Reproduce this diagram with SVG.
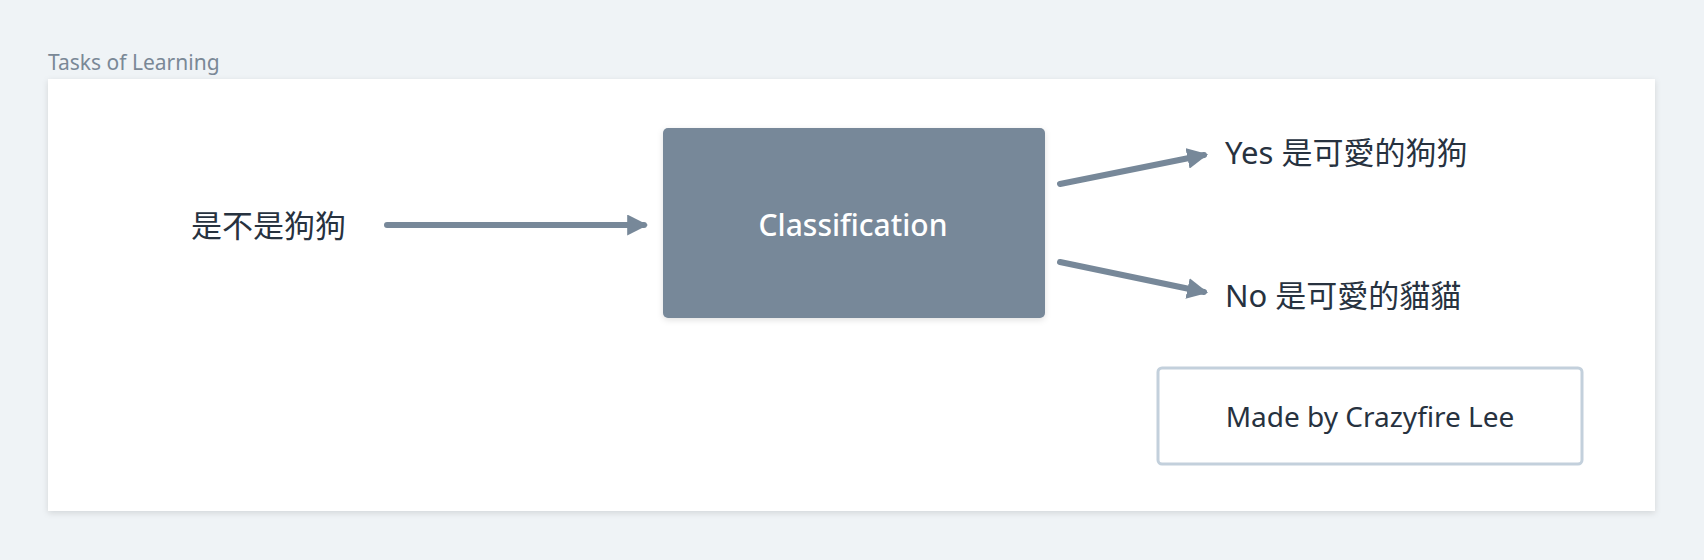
<svg xmlns="http://www.w3.org/2000/svg" width="1704" height="560" viewBox="0 0 1704 560">
<style>
text{font-family:"Noto Sans","Noto Sans CJK TC",sans-serif;fill:#27323f}
.lbl{font-size:31px}
.conn line{stroke:#778899;stroke-width:6;stroke-linecap:round}
</style>
<defs>
<marker id="ah" viewBox="0 0 10 10" refX="8" refY="5" markerWidth="3.5" markerHeight="3.5" orient="auto" markerUnits="strokeWidth"><path d="M0,0 L10,5 L0,10 z" fill="#778899"/></marker>
<filter id="sh" x="-10%" y="-10%" width="120%" height="130%"><feDropShadow dx="0" dy="2" stdDeviation="3" flood-color="#000" flood-opacity="0.12"/></filter>
</defs>
<rect width="1704" height="560" fill="#eff3f6"/>
<text x="48" y="70" style="font-size:21px;fill:#7a8896">Tasks of Learning</text>
<rect x="48" y="79" width="1607" height="432" fill="#fff" filter="url(#sh)"/>
<g id="classification"><rect x="663" y="128" width="382" height="190" rx="5" fill="#778899" filter="url(#sh)"/><text x="853" y="236" text-anchor="middle" style="font-size:30px;fill:#fff;font-weight:500">Classification</text></g>
<g id="input"><text class="lbl" x="191" y="237">是不是狗狗</text></g>
<g id="yes"><text class="lbl" x="1225" y="164">Yes 是可愛的狗狗</text></g>
<g id="no"><text class="lbl" x="1225" y="307">No 是可愛的貓貓</text></g>
<g id="credit"><rect x="1158" y="368" width="424" height="96" rx="4" fill="#fff" stroke="#c3d0dc" stroke-width="3"/><text x="1370" y="427" text-anchor="middle" style="font-size:28px">Made by Crazyfire Lee</text></g>
<g class="conn">
<line x1="387" y1="225" x2="644" y2="225" marker-end="url(#ah)"/>
<line x1="1060" y1="184" x2="1204" y2="155" marker-end="url(#ah)"/>
<line x1="1060" y1="262" x2="1204" y2="292" marker-end="url(#ah)"/>
</g>
</svg>
